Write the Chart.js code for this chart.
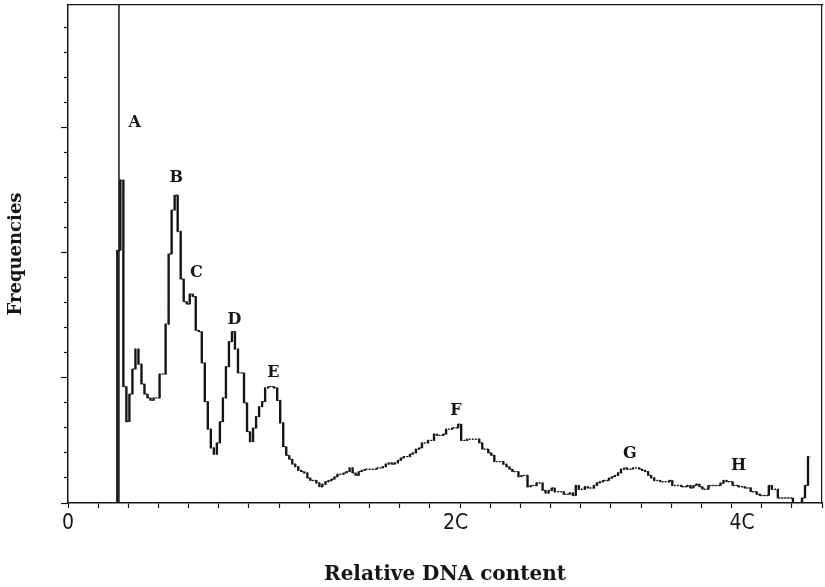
<!DOCTYPE html>
<html>
<head>
<meta charset="utf-8">
<script src="https://cdn.jsdelivr.net/npm/chart.js@4.4.1/dist/chart.umd.min.js"></script>
<style>
  html, body { margin: 0; padding: 0; background: #fff; }
</style>
</head>
<body>
<canvas id="dnaChart" width="825" height="587"></canvas>
<script>
// histogram channels, x in axis tick units (0..25)
const channelStart = 1.636;
const channelWidth = 0.1;
const frequencies = [
  202, 258, 93, 65, 87, 107, 123, 111, 95, 87, 84, 82, 84, 84, 103, 103, 143, 199, 234, 246,
  217, 179, 161, 159, 167, 165, 138, 137, 112, 81, 59, 44, 39, 48, 65, 84, 109, 129, 137, 123,
  104, 104, 80, 57, 49, 60, 69, 77, 81, 92, 93, 93, 92, 82, 64, 45, 38, 35, 31, 29,
  26, 25, 24, 20, 18, 18, 16, 13, 15, 17, 18, 19, 21, 23, 23, 24, 25, 28, 24, 22,
  25, 26, 27, 27, 27, 27, 28, 28, 29, 31, 32, 31, 32, 34, 36, 37, 37, 39, 40, 43,
  44, 48, 48, 50, 50, 55, 54, 54, 55, 59, 59, 60, 60, 63, 50, 50, 51, 51, 51, 51,
  48, 43, 43, 40, 38, 33, 33, 33, 31, 29, 27, 25, 25, 21, 22, 22, 13, 14, 14, 16,
  16, 10, 8, 10, 12, 9, 9, 9, 7, 7, 8, 6, 14, 11, 11, 13, 12, 12, 14, 16,
  17, 18, 18, 20, 21, 22, 24, 27, 28, 27, 27, 28, 28, 27, 26, 25, 22, 20, 18, 18,
  17, 17, 17, 18, 14, 14, 14, 13, 13, 14, 12, 14, 15, 13, 11, 11, 14, 14, 14, 14,
  16, 18, 17, 17, 14, 14, 13, 13, 12, 12, 9, 9, 7, 6, 6, 6, 14, 11, 11, 4,
  4, 4, 4, 4, 0, 0, 0, 4, 14, 37
];

// lower gate cursor
const gateChannel = 1.69;

const xMax = 25;
const yMax = 398;
const yMajorStep = 100;
const yMinorStep = 20;

const xLabelValues = [0, 12.85, 22.35];
const xLabelTexts = ['0', '2C', '4C'];

const peakNames = ['A', 'B', 'C', 'D', 'E', 'F', 'G', 'H'];
const peakX = [2.215, 3.59, 4.255, 5.52, 6.81, 12.86, 18.63, 22.23];
const peakY = [304, 260, 184, 146, 104, 74, 39, 30];

const ink = '#151515';
const serifFamily = "'DejaVu Serif', 'Liberation Serif', serif";
const narrowSans = { family: "'Liberation Sans Narrow', 'DejaVu Sans Condensed', 'Liberation Sans', sans-serif", size: 21 };

// step levels (dotted in the print) and the rises/falls between channels (solid)
const histPoints = [{ x: channelStart, y: 0 }];
frequencies.forEach((f, i) => histPoints.push({ x: channelStart + i * channelWidth, y: f }));
histPoints.push({ x: channelStart + frequencies.length * channelWidth, y: frequencies[frequencies.length - 1] });

const histRises = frequencies.map((f, i) => {
    const prev = i === 0 ? 0 : frequencies[i - 1];
    return { x: channelStart + i * channelWidth, y: [Math.min(prev, f), Math.max(prev, f)] };
});

const isLabelTick = v => xLabelValues.includes(v) && !Number.isInteger(v);

const peakLabels = {
    id: 'peakLabels',
    afterDatasetsDraw(chart) {
        const { ctx, scales } = chart;
        ctx.save();
        ctx.fillStyle = ink;
        ctx.font = "bold 16px " + serifFamily;
        ctx.textAlign = 'center';
        ctx.textBaseline = 'middle';
        peakNames.forEach((name, i) => {
            ctx.fillText(name, scales.x.getPixelForValue(peakX[i]), scales.y.getPixelForValue(peakY[i]));
        });
        ctx.restore();
    }
};

new Chart(document.getElementById('dnaChart'), {
    type: 'line',
    data: {
        datasets: [{
            type: 'bar',
            data: histRises,
            backgroundColor: ink,
            borderWidth: 0,
            barThickness: 1.7,
            grouped: false
        }, {
            data: histPoints,
            stepped: true,
            borderColor: ink,
            borderWidth: 1.3,
            borderDash: [1.5, 1.6],
            pointRadius: 0,
            fill: false,
            clip: 0
        }, {
            data: [{ x: gateChannel, y: 0 }, { x: gateChannel, y: yMax }],
            borderColor: ink,
            borderWidth: 1.5,
            pointRadius: 0,
            fill: false
        }]
    },
    options: {
        responsive: false,
        animation: false,
        devicePixelRatio: 1,
        layout: { padding: { top: 5, right: 2, left: 0, bottom: 0 } },
        plugins: {
            legend: { display: false },
            tooltip: { enabled: false }
        },
        scales: {
            x: {
                type: 'linear',
                min: 0,
                max: xMax,
                offset: false,
                afterBuildTicks: scale => {
                    const values = [];
                    for (let v = 0; v <= xMax; v++) values.push(v);
                    xLabelValues.forEach(v => { if (!values.includes(v)) values.push(v); });
                    values.sort((a, b) => a - b);
                    scale.ticks = values.map(v => ({ value: v }));
                },
                ticks: {
                    autoSkip: false,
                    maxRotation: 0,
                    padding: 3,
                    color: ink,
                    font: narrowSans,
                    callback: value => {
                        const k = xLabelValues.indexOf(value);
                        return k >= 0 ? xLabelTexts[k] : '';
                    }
                },
                grid: {
                    offset: false,
                    drawOnChartArea: false,
                    tickLength: 5,
                    tickWidth: 1.2,
                    tickColor: ctx => (ctx.tick && isLabelTick(ctx.tick.value)) ? 'rgba(0,0,0,0)' : ink
                },
                border: { color: ink, width: 1.5 },
                title: {
                    display: true,
                    text: 'Relative DNA content',
                    color: ink,
                    font: { family: serifFamily, weight: 'bold', size: 20 },
                    padding: { top: 0, bottom: 0 }
                },
                afterFit: scale => { scale.height = 84; }
            },
            y: {
                type: 'linear',
                min: 0,
                max: yMax,
                ticks: { stepSize: yMinorStep, display: false, includeBounds: false },
                grid: {
                    drawOnChartArea: false,
                    tickLength: 7,
                    tickWidth: 1.2,
                    tickColor: ink,
                    tickBorderDash: ctx => (ctx.tick && ctx.tick.value % yMajorStep === 0) ? [] : [3, 3],
                    tickBorderDashOffset: ctx => (ctx.tick && ctx.tick.value % yMajorStep === 0) ? 0 : 3
                },
                border: { color: ink, width: 1.5 },
                title: {
                    display: true,
                    text: 'Frequencies',
                    color: ink,
                    font: { family: serifFamily, weight: 'bold', size: 18 },
                    padding: { top: 6, bottom: 0 }
                },
                afterFit: scale => { scale.width = 68; }
            },
            xTop: {
                type: 'linear',
                position: 'top',
                min: 0,
                max: xMax,
                ticks: { display: false },
                grid: { drawOnChartArea: false, drawTicks: false },
                border: { color: ink, width: 1.2 },
                afterFit: scale => { scale.height = 0; }
            },
            yRight: {
                type: 'linear',
                position: 'right',
                min: 0,
                max: yMax,
                ticks: { display: false },
                grid: { drawOnChartArea: false, drawTicks: false },
                border: { color: ink, width: 1.2 },
                afterFit: scale => { scale.width = 0; }
            }
        }
    },
    plugins: [peakLabels]
});
</script>
</body>
</html>
